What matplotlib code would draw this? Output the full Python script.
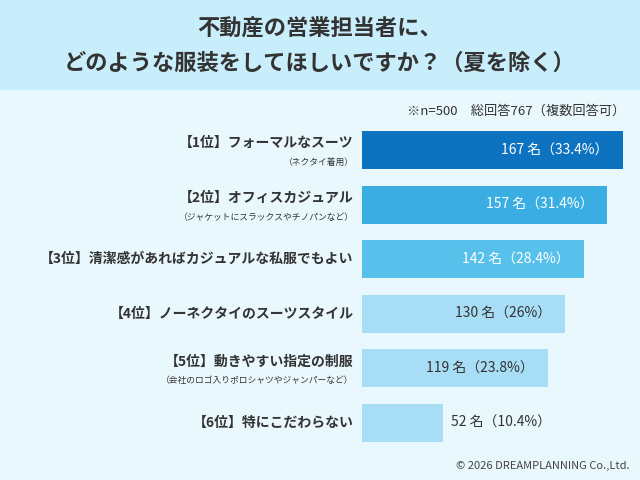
import matplotlib.pyplot as plt
from matplotlib.patches import Rectangle

plt.rcParams['font.family'] = ['Noto Sans CJK JP', 'DejaVu Sans']

labels = ['【1位】フォーマルなスーツ', '【2位】オフィスカジュアル', '【3位】清潔感があればカジュアルな私服でもよい',
          '【4位】ノーネクタイのスーツスタイル', '【5位】動きやすい指定の制服', '【6位】特にこだわらない']
sublabels = ['（ネクタイ着用）', '（ジャケットにスラックスやチノパンなど）', '', '',
             '（会社のロゴ入りポロシャツやジャンパーなど）', '']
counts = [167, 157, 142, 130, 119, 52]
pcts = ['33.4%', '31.4%', '28.4%', '26%', '23.8%', '10.4%']
colors = ['#0d72bf', '#3aaee3', '#57c1ec', '#a8def5', '#a8def5', '#a8def5']

fig = plt.figure(figsize=(6.4, 4.8), dpi=100)
fig.patch.set_facecolor('#e9f8fd')
fig.patches.append(Rectangle((0, 1 - 90/480), 1, 90/480, transform=fig.transFigure,
                             facecolor='#c9eefb', edgecolor='none', zorder=0))
fig.text(0.5, 1 - 29/480, '不動産の営業担当者に、', ha='center', va='center',
         fontsize=16, fontweight='bold', color='#333333')
fig.text(0.5, 1 - 63/480, 'どのような服装をしてほしいですか？（夏を除く）', ha='center', va='center',
         fontsize=16, fontweight='bold', color='#333333')
fig.text(625/640, 1 - 111/480, '※n=500　総回答767（複数回答可）', ha='right', va='center',
         fontsize=9.5, color='#333333')
fig.text(630/640, 1 - 466/480, '© 2026 DREAMPLANNING Co.,Ltd.', ha='right', va='center',
         fontsize=8, color='#444444')

ax = fig.add_axes([362/640, 1 - 450/480, 1 - 362/640, 327/480])
ax.set_xlim(0, 278/1.56)
ax.set_ylim(5.5, -0.5)
ax.axis('off')
ys = range(len(counts))
ax.barh(ys, counts, height=0.7, color=colors)
for i, (c, p) in enumerate(zip(counts, pcts)):
    txt = f'{c} 名（{p}）'
    col = 'white' if i < 3 else '#333333'
    if i < 5:
        ax.annotate(txt, (c, i), xytext=(-10, 0), textcoords='offset points',
                    ha='right', va='center', fontsize=10, color=col)
    else:
        ax.annotate(txt, (c, i), xytext=(6, 0), textcoords='offset points',
                    ha='left', va='center', fontsize=10, color=col)
    dy = 5 if sublabels[i] else 0
    ax.annotate(labels[i], (0, i), xytext=(-6, dy), textcoords='offset points',
                ha='right', va='center', fontsize=10, fontweight='bold', color='#333333')
    if sublabels[i]:
        ax.annotate(sublabels[i], (0, i), xytext=(-6, -9), textcoords='offset points',
                    ha='right', va='center', fontsize=6.3, color='#333333')

fig.savefig('out.png', dpi=100, facecolor=fig.get_facecolor())
